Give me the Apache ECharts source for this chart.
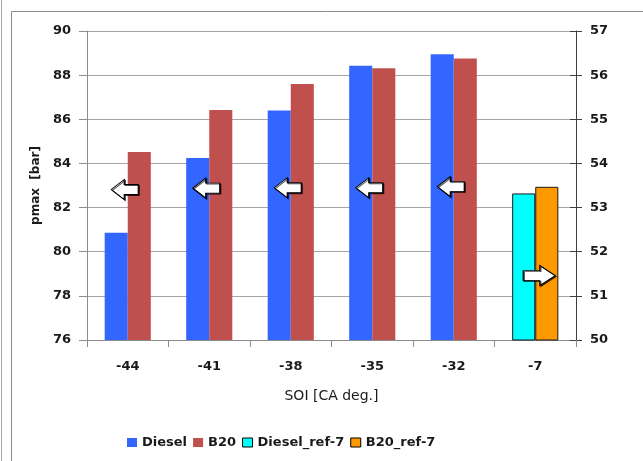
<!DOCTYPE html>
<html>
<head>
<meta charset="utf-8">
<script src="https://cdn.jsdelivr.net/npm/echarts@6/dist/echarts.min.js"></script>
<style>
html,body{margin:0;padding:0;background:#fff;}
#c{width:643px;height:461px;}
</style>
</head>
<body>
<div id="c"></div>
<script>
var categories = ['-44', '-41', '-38', '-35', '-32', '-7'];
var diesel = [80.86, 84.25, 86.4, 88.43, 88.95, null];
var b20 = [84.52, 86.42, 87.6, 88.31, 88.75, null];
var dieselRef = [null, null, null, null, null, 53.32];
var b20Ref = [null, null, null, null, null, 53.47];
var leftArrowY = [82.82, 82.88, 82.9, 82.9, 82.95, null];
var rightArrowY = [null, null, null, null, null, 51.46];
var leftTicks = [76, 78, 80, 82, 84, 86, 88, 90];
var rightTicks = [50, 51, 52, 53, 54, 55, 56, 57];

var FONT = 'DejaVu Sans';
var TXT = '#1a1a1a';
var leftArrowPath = 'path://M0,10 L13,0 L13,5 L27,5 L27,15 L13,15 L13,20 Z';
var rightArrowPath = 'path://M27,10 L14,0 L14,5 L0,5 L0,15 L14,15 L14,20 Z';

var chart = echarts.init(document.getElementById('c'), null, {renderer: 'canvas'});
var option = {
  backgroundColor: '#fff',
  animation: false,
  graphic: [
    {type: 'rect', silent: true, z: -10, shape: {x: 11.5, y: 11.5, width: 700, height: 500}, style: {fill: 'none', stroke: '#8c8c8c', lineWidth: 1}},
    {type: 'line', silent: true, z: -10, shape: {x1: 1.5, y1: 0, x2: 1.5, y2: 461}, style: {stroke: '#a8a8a8', lineWidth: 1}}
  ],
  grid: {left: 87, right: 67, top: 31, bottom: 121, containLabel: false},
  legend: {
    data: [
      {name: 'Diesel'},
      {name: 'B20'},
      {name: 'Diesel_ref-7', itemStyle: {borderColor: '#000', borderWidth: 1}},
      {name: 'B20_ref-7', itemStyle: {borderColor: '#000', borderWidth: 1}}
    ],
    left: 122, top: 431,
    itemWidth: 10, itemHeight: 9, itemGap: 6,
    icon: 'rect',
    textStyle: {fontFamily: FONT, fontSize: 13, fontWeight: 'bold', color: TXT, padding: [0, 0, 0, 0]}
  },
  xAxis: [
    {
      type: 'category', data: categories, gridIndex: 0,
      name: 'SOI [CA deg.]', nameLocation: 'middle', nameGap: 49,
      nameTextStyle: {fontFamily: FONT, fontSize: 14, color: TXT},
      axisLine: {lineStyle: {color: '#8c8c8c'}},
      axisTick: {show: true, length: 7, lineStyle: {color: '#8c8c8c'}},
      axisLabel: {fontFamily: FONT, fontSize: 13, fontWeight: 'bold', color: TXT, margin: 20}
    },
    {
      type: 'category', data: categories, gridIndex: 0, show: false
    }
  ],
  yAxis: [
    {
      type: 'value', min: leftTicks[0], max: leftTicks[leftTicks.length - 1], interval: 2,
      name: 'pmax  [bar]', nameLocation: 'middle', nameGap: 45, nameRotate: 90,
      nameTextStyle: {fontFamily: FONT, fontSize: 12, fontWeight: 'bold', color: TXT},
      axisLine: {show: true, lineStyle: {color: '#8c8c8c'}},
      axisTick: {show: true, length: 8, lineStyle: {color: '#8c8c8c'}},
      axisLabel: {fontFamily: FONT, fontSize: 13, fontWeight: 'bold', color: TXT, margin: 16},
      splitLine: {show: true, lineStyle: {color: '#a6a6a6'}}
    },
    {
      type: 'value', position: 'right', min: rightTicks[0], max: rightTicks[rightTicks.length - 1], interval: 1,
      axisLine: {show: true, lineStyle: {color: '#404040'}},
      axisTick: {show: true, length: 6, lineStyle: {color: '#404040'}},
      axisLabel: {fontFamily: FONT, fontSize: 13, fontWeight: 'bold', color: TXT, margin: 14},
      splitLine: {show: false}
    },
    {
      type: 'value', position: 'right', min: rightTicks[0], max: rightTicks[rightTicks.length - 1], interval: 1,
      axisLine: {show: false},
      axisTick: {show: true, inside: true, length: 6, lineStyle: {color: '#404040'}},
      axisLabel: {show: false},
      splitLine: {show: false}
    }
  ],
  series: [
    {name: 'Diesel', type: 'bar', xAxisIndex: 0, yAxisIndex: 0, data: diesel, barWidth: '28.3%', barGap: '0%',
     itemStyle: {color: '#3366ff'}},
    {name: 'B20', type: 'bar', xAxisIndex: 0, yAxisIndex: 0, data: b20, barWidth: '28.3%', barGap: '0%',
     itemStyle: {color: '#c0504d'}},
    {name: 'Diesel_ref-7', type: 'bar', xAxisIndex: 1, yAxisIndex: 1, data: dieselRef, barWidth: '28.3%', barGap: '0%',
     itemStyle: {color: '#00ffff', borderColor: '#1a1a1a', borderWidth: 1}},
    {name: 'B20_ref-7', type: 'bar', xAxisIndex: 1, yAxisIndex: 1, data: b20Ref, barWidth: '28.3%', barGap: '0%',
     itemStyle: {color: '#ff9900', borderColor: '#1a1a1a', borderWidth: 1}},
    {name: 'arrowLeft', type: 'scatter', xAxisIndex: 0, yAxisIndex: 0, data: leftArrowY, silent: true, z: 10,
     symbol: leftArrowPath, symbolSize: [27, 20], symbolOffset: [-3, 0],
     itemStyle: {color: '#fff', borderColor: '#000', borderWidth: 1, shadowColor: 'rgba(0,0,0,0.7)', shadowBlur: 0, shadowOffsetX: 1, shadowOffsetY: 1, opacity: 1}},
    {name: 'arrowRight', type: 'scatter', xAxisIndex: 1, yAxisIndex: 1, data: rightArrowY, silent: true, z: 10,
     symbol: rightArrowPath, symbolSize: [32, 20], symbolOffset: [4, 0],
     itemStyle: {color: '#fff', borderColor: '#000', borderWidth: 1, shadowColor: 'rgba(0,0,0,0.7)', shadowBlur: 0, shadowOffsetX: 1, shadowOffsetY: 1, opacity: 1}}
  ]
};
chart.setOption(option);
</script>
</body>
</html>
